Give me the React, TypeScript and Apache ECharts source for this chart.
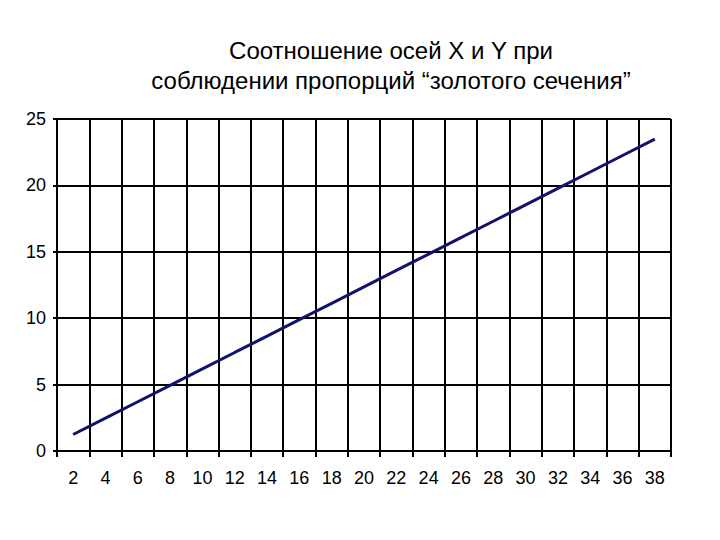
import React, { useEffect, useRef } from "react";
import * as echarts from "echarts";

const categories = ["2", "4", "6", "8", "10", "12", "14", "16", "18", "20", "22", "24", "26", "28", "30", "32", "34", "36", "38"];
const values = [1.24, 2.47, 3.71, 4.94, 6.18, 7.42, 8.65, 9.89, 11.12, 12.36, 13.6, 14.83, 16.07, 17.3, 18.54, 19.78, 21.01, 22.25, 23.48];
const titleText = "Соотношение осей X и Y при\nсоблюдении пропорций “золотого сечения”";

export default function App() {
  const ref = useRef<HTMLDivElement>(null);
  useEffect(() => {
    if (!ref.current) return;
    const chart = echarts.init(ref.current, null, { renderer: "svg" });
    chart.setOption({
      animation: false,
      backgroundColor: "#ffffff",
      graphic: [
        {
          type: "text",
          x: 391,
          y: 35,
          style: {
            text: titleText,
            align: "center",
            verticalAlign: "top",
            font: "24px 'Liberation Sans', Arial, sans-serif",
            lineHeight: 30,
            fill: "#000",
          },
        },
      ],
      grid: { left: 57, right: 49, top: 119, bottom: 89 },
      xAxis: {
        type: "category",
        data: categories,
        boundaryGap: true,
        axisLine: { show: true, lineStyle: { color: "#000", width: 2 } },
        axisTick: { show: true, alignWithLabel: false, interval: 0, length: 6, lineStyle: { color: "#000", width: 2 } },
        axisLabel: {
          interval: 0,
          margin: 18,
          color: "#000",
          fontSize: 18,
          fontFamily: "'Liberation Sans', Arial, sans-serif",
        },
        splitLine: { show: true, interval: 0, lineStyle: { color: "#000", width: 2 } },
      },
      yAxis: {
        type: "value",
        min: 0,
        max: 25,
        interval: 5,
        axisLine: { show: true, lineStyle: { color: "#000", width: 2 } },
        axisTick: { show: true, length: 4, lineStyle: { color: "#000", width: 2 } },
        axisLabel: {
          margin: 11,
          color: "#000",
          fontSize: 18,
          fontFamily: "'Liberation Sans', Arial, sans-serif",
        },
        splitLine: { show: true, lineStyle: { color: "#000", width: 2 } },
      },
      series: [
        {
          type: "line",
          data: values,
          symbol: "none",
          lineStyle: { color: "#12126e", width: 3 },
        },
      ],
    });
    return () => chart.dispose();
  }, []);
  return <div ref={ref} style={{ position: "fixed", left: 0, top: 0, width: 720, height: 540 }} />;
}
